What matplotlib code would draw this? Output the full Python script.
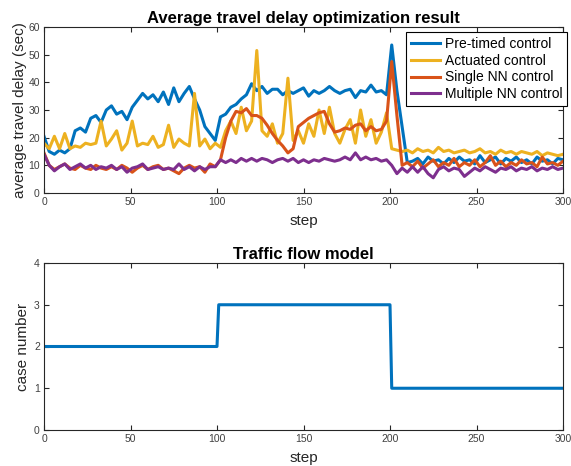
import matplotlib
matplotlib.use("Agg")
import matplotlib.pyplot as plt

plt.rcParams['font.family'] = ['Liberation Sans', 'DejaVu Sans']

steps = list(range(0, 301, 3))

pretimed = [
    20.5, 15, 14, 15.5, 14.5, 16, 22.5, 23.5, 22, 27,
    28, 25.5, 30, 31.5, 28.5, 29.5, 26.5, 31, 33.5, 36,
    34, 35.5, 33, 36.5, 32, 38, 33, 36, 38.5, 34,
    30, 24, 21.5, 19, 27.5, 28.5, 31, 32, 34, 35.5,
    39.5, 37, 38.5, 36, 37.5, 37.5, 35.5, 37, 36, 37,
    38, 35, 37, 36, 37, 38.5, 37, 36, 37, 37.5,
    34.5, 37, 36.5, 39, 36.5, 37, 35.5, 53.5, 37, 24,
    11, 11.5, 12.5, 10.5, 13, 11.5, 12, 10.5, 12.5, 11,
    13, 11.5, 12, 10.5, 13.5, 11, 12, 13, 10.5, 12.5,
    11.5, 13, 11, 12, 10.5, 13, 11.5, 12, 10.5, 12.5,
    12]

actuated = [
    18, 16, 20.5, 16, 21.5, 16, 17, 16.5, 18, 17.5,
    18, 26, 17, 19.5, 22.5, 15.5, 18, 26, 17, 18,
    17.5, 20.5, 16.5, 17.5, 24.5, 16.5, 19.5, 18, 17, 36,
    17, 19.5, 16, 18, 16.5, 22.5, 26, 21.5, 31, 22.5,
    26, 51.5, 22.5, 20.5, 25, 18, 21.5, 41.5, 19, 22.5,
    18, 25, 20.5, 30, 21.5, 31, 21.5, 18, 23, 26.5,
    18, 30, 20.5, 26.5, 18, 22, 29, 16, 15.5, 15,
    15.5, 14.5, 16, 15, 15.5, 14.5, 16.5, 15, 15.5, 14.5,
    15, 15.5, 14.5, 15, 16, 14.5, 15, 14, 15.5, 14.5,
    15, 14, 15, 14.5, 14, 15, 13.5, 14.5, 14, 13.5,
    14]

single_nn = [
    14.5, 10, 8.5, 9.5, 10.5, 9, 8.5, 10, 9, 8.5,
    10, 9, 8.5, 9.5, 8.5, 10, 9, 7.5, 9, 10,
    8.5, 9.5, 10, 8.5, 9, 8, 7, 9, 10, 9,
    9.5, 7.5, 10.5, 9.5, 12, 20, 26, 29.5, 29, 30.5,
    28, 28, 27, 24.5, 21.5, 19, 17, 14.5, 16, 24,
    25.5, 27, 28, 29, 29.5, 25, 22, 22.5, 23.5, 23,
    24.5, 25, 22.5, 24, 22.5, 23, 26, 47.5, 28, 10,
    11, 9.5, 11.5, 9, 10.5, 12, 9.5, 11, 10, 12.5,
    9.5, 11, 10, 12, 9.5, 11, 13.5, 10, 11.5, 9.5,
    11, 10, 12, 10.5, 11, 9.5, 13, 10.5, 11, 10,
    11.5]

multiple_nn = [
    14, 10, 8, 9.5, 10.5, 8.5, 9.5, 10.5, 9, 10,
    8.5, 9.5, 9, 10, 8.5, 9.5, 7.5, 9, 9.5, 10.5,
    8.5, 9, 9.5, 8.5, 9, 8.5, 10.5, 8.5, 9.5, 8,
    9.5, 8.5, 9.5, 9.5, 12, 11, 12, 11, 12.5, 11.5,
    12.5, 11.5, 12.5, 12, 11, 12, 12.5, 11.5, 12.5, 11,
    12, 11, 12, 11.5, 12.5, 12, 11.5, 12, 13, 12,
    14.5, 12, 13, 12, 12.5, 11.5, 12, 10, 7, 9,
    7.5, 9.5, 7.5, 9.5, 7, 5.5, 8.5, 9.5, 8, 9,
    8.5, 6, 7.5, 9, 8, 9.5, 8.5, 7.5, 9, 8.5,
    9.5, 8, 9, 8.5, 9.5, 8, 9, 8.5, 9.5, 8.5,
    9]

series_labels = ['Pre-timed control', 'Actuated control',
                 'Single NN control', 'Multiple NN control']

case_steps = [0, 100, 101, 200, 201, 300]
case_values = [2, 2, 3, 3, 1, 1]

x_ticks = [0, 50, 100, 150, 200, 250, 300]
y_ticks_top = [0, 10, 20, 30, 40, 50, 60]
y_ticks_bottom = [0, 1, 2, 3, 4]

# ---- style ----
colors = ['#0072BD', '#EDB120', '#D95319', '#7E2F8E']
axcol = '#262626'
W, H = 571, 466
fig = plt.figure(figsize=(W / 100, H / 100), dpi=100)

def style(ax):
    for s in ax.spines.values():
        s.set_color(axcol)
        s.set_linewidth(0.8)
    ax.tick_params(direction='in', top=True, right=True, length=3.5,
                   width=0.8, colors=axcol, labelsize=7.5, pad=3)
    for lab in ax.get_xticklabels() + ax.get_yticklabels():
        lab.set_color('#404040')

ax1 = fig.add_axes([44 / W, 1 - 193 / H, 519 / W, 166 / H])
for vals, c, lab in zip([pretimed, actuated, single_nn, multiple_nn], colors, series_labels):
    ax1.plot(steps, vals, color=c, lw=2.2, label=lab)
ax1.set_xlim(0, 300)
ax1.set_ylim(0, 60)
ax1.set_xticks(x_ticks)
ax1.set_yticks(y_ticks_top)
style(ax1)
ax1.set_title('Average travel delay optimization result', fontsize=12,
              fontweight='bold', pad=3)
ax1.set_xlabel('step', fontsize=11, labelpad=5, color='#262626')
ax1.set_ylabel('average travel delay (sec)', fontsize=11, labelpad=1, color='#262626')
leg = ax1.legend(loc='upper right', bbox_to_anchor=(1.008, 0.97),
                 borderaxespad=0, fancybox=False, framealpha=1,
                 edgecolor='#000000', fontsize=10, handlelength=2.1,
                 handletextpad=0.3, labelspacing=0.2, borderpad=0.35)
leg.get_frame().set_linewidth(0.8)

ax2 = fig.add_axes([44 / W, 1 - 430 / H, 519 / W, 167 / H])
ax2.plot(case_steps, case_values, color=colors[0], lw=2.2)
ax2.set_xlim(0, 300)
ax2.set_ylim(0, 4)
ax2.set_xticks(x_ticks)
ax2.set_yticks(y_ticks_bottom)
style(ax2)
ax2.set_title('Traffic flow model', fontsize=12, fontweight='bold', pad=3)
ax2.set_xlabel('step', fontsize=11, labelpad=5, color='#262626')
ax2.set_ylabel('case number', fontsize=11, labelpad=3, color='#262626')

fig.savefig('out.png', dpi=100)
